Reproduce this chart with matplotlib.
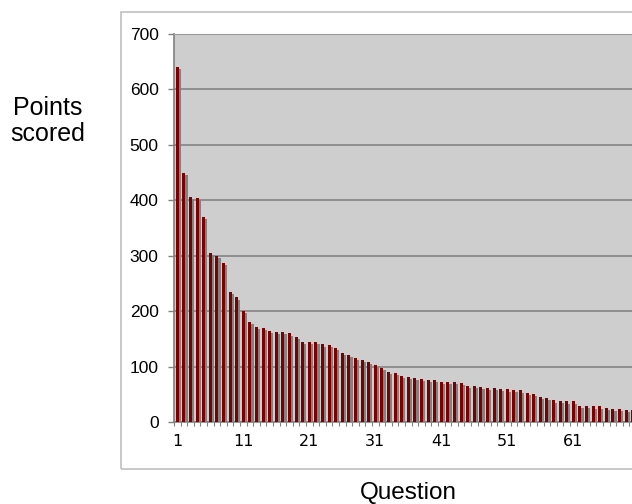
import numpy as np
import matplotlib.pyplot as plt
from matplotlib.patches import Rectangle
from matplotlib.ticker import MultipleLocator, FixedLocator

# points scored per question (sorted high to low)
questions = list(range(1, 71))
points = [640, 449, 406, 404, 370, 305, 300, 287, 235, 225,
          201, 180, 171, 170, 164, 162, 162, 160, 153, 145,
          145, 144, 140, 139, 133, 125, 121, 115, 112, 109,
          103, 98, 91, 89, 83, 81, 79, 78, 76, 76,
          73, 72, 72, 70, 65, 65, 63, 62, 62, 60,
          59, 58, 57, 52, 51, 46, 44, 39, 38, 37,
          37, 29, 29, 28, 28, 25, 24, 23, 22, 21]
x_labels = [1, 11, 21, 31, 41, 51, 61]

fig = plt.figure(figsize=(6.32, 5.04), dpi=100)

# outer chart border
fig.patches.append(Rectangle((121 / 632, (504 - 469) / 504), 1.0, (469 - 12) / 504,
                             transform=fig.transFigure, fill=False,
                             edgecolor='#c0c0c0', linewidth=1.2))

# plot area runs off the right edge like the original
ax = fig.add_axes([174 / 632, (504 - 422) / 504, 528 / 632, 388 / 504])
ax.set_facecolor('#cecece')

x = np.array(questions)
y = np.array(points)
ax.bar(x + 0.34, np.maximum(y - 4, 0), width=0.44, color='#828282', zorder=2)
ax.bar(x, y, width=0.46, color='#7d0000', zorder=3)

ax.set_xlim(0.5, 80.5)
ax.set_ylim(0, 700)
ax.yaxis.set_major_locator(MultipleLocator(100))
ax.grid(axis='y', color='#8a8a8a', linewidth=1.3, zorder=1)
ax.set_axisbelow(True)

ax.set_xticks(x_labels)
ax.set_xticklabels([str(v) for v in x_labels], fontsize=11.5, family='DejaVu Sans')
ax.xaxis.set_minor_locator(FixedLocator(np.arange(0.5, 80.5, 1)))
ax.tick_params(axis='x', which='major', length=0, pad=9)
ax.tick_params(axis='x', which='minor', length=3, color='#808080', width=0.8)
ax.tick_params(axis='y', length=4, color='#808080', width=1, pad=7)
ax.set_yticks(range(0, 701, 100))
ax.set_yticklabels([str(v) for v in range(0, 701, 100)], fontsize=12.5,
                   family='Liberation Sans')

for s in ['left', 'bottom']:
    ax.spines[s].set_color('#808080')
    ax.spines[s].set_linewidth(1.2)
ax.spines['top'].set_color('#9a9a9a')
ax.spines['right'].set_visible(False)

fig.text(48 / 632, 1 - 121 / 504, 'Points\nscored', ha='center', va='center',
         fontsize=18, family='Liberation Sans', linespacing=1.1)
fig.text(408 / 632, 1 - 493 / 504, 'Question', ha='center', va='center',
         fontsize=17.5, family='Liberation Sans')

fig.savefig('out.png', dpi=100)
